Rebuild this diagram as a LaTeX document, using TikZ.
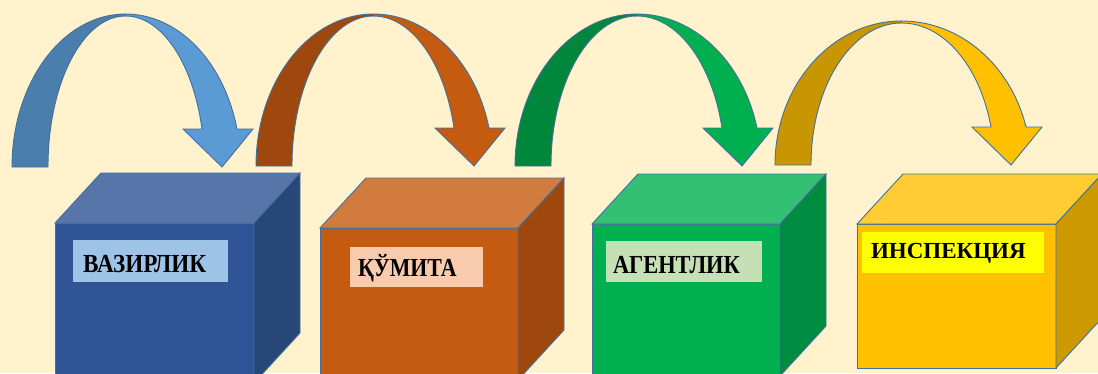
\documentclass[tikz,border=0pt]{standalone}
\usepackage{fontspec}
\usepackage{graphicx}
\newfontfamily\labfont{Liberation Serif}
\definecolor{bg}{HTML}{FFF2CC}
\definecolor{edge}{RGB}{70,112,152}
\definecolor{blueD}{HTML}{4A7EAD}
\definecolor{blueA}{HTML}{5B9BD5}
\definecolor{blueF}{HTML}{2F5597}
\definecolor{blueT}{HTML}{5875AA}
\definecolor{blueS}{HTML}{284779}
\definecolor{blueL}{HTML}{9DC3E6}
\definecolor{oranD}{HTML}{9E480E}
\definecolor{oranA}{HTML}{C55A11}
\definecolor{oranF}{HTML}{C55A11}
\definecolor{oranT}{HTML}{D17B3F}
\definecolor{oranS}{HTML}{9E480E}
\definecolor{oranL}{HTML}{F8CBAD}
\definecolor{greeD}{HTML}{00873C}
\definecolor{greeA}{HTML}{00B050}
\definecolor{greeF}{HTML}{00B050}
\definecolor{greeT}{HTML}{33C073}
\definecolor{greeS}{HTML}{008C40}
\definecolor{greeL}{HTML}{C5E0B4}
\definecolor{goldD}{HTML}{C89600}
\definecolor{goldA}{HTML}{FFC000}
\definecolor{goldF}{HTML}{FFC000}
\definecolor{goldT}{HTML}{FFCD33}
\definecolor{goldS}{HTML}{CC9A00}
\definecolor{goldL}{HTML}{FFFF00}
\tikzset{
  shapeline/.style={draw=edge, line width=0.9pt, line join=miter},
  cubeface/.style={shapeline, rectangle, inner sep=0pt, outer sep=0pt},
  labelbox/.style={rectangle, inner ysep=0pt, outer sep=0pt, align=left,
    font=\labfont\bfseries, text=black},
}
% #1 left x, #2 head right x, #3 top y (pixels from top), #4 bottom y (pixels from top), #5 back colour, #6 front colour
\newcommand{\curvedarrow}[6]{%
  \pgfmathsetmacro\aL{#1}\pgfmathsetmacro\aR{#2}%
  \pgfmathsetmacro\aYt{373-#3}\pgfmathsetmacro\aYb{373-#4}%
  \pgfmathsetmacro\aYh{\aYb+38}%
  \pgfmathsetmacro\aC{(\aL+\aR)/2-7}%
  \pgfmathsetmacro\ary{\aYt-\aYb}%
  \pgfmathsetmacro\aryi{\ary-2}%
  \pgfmathsetmacro\arx{\aC-\aL}%
  \pgfmathsetmacro\arxi{\arx-36}%
  \pgfmathsetmacro\asa{asin(38/\ary)}%
  \pgfmathsetmacro\asai{asin(38/\aryi)}%
  \pgfmathsetmacro\arxo{(\aR-16-\aC)/cos(\asa)}%
  \pgfmathsetmacro\arxii{(\aR-51-\aC)/cos(\asai)}%
  \filldraw[shapeline, fill=#5] (\aL,\aYb)
    arc[start angle=180, end angle=90, x radius=\arx, y radius=\ary]
    -- (\aC,\aYt-2)
    arc[start angle=90, end angle=180, x radius=\arxi, y radius=\aryi] -- cycle;
  \filldraw[shapeline, fill=#6] (\aC,\aYt)
    arc[start angle=90, end angle=\asa, x radius=\arxo, y radius=\ary]
    -- (\aR,\aYh) -- (\aR-31,\aYb) -- (\aR-70,\aYh) -- (\aR-51,\aYh)
    arc[start angle=\asai, end angle=90, x radius=\arxii, y radius=\aryi] -- cycle;
}
% #1 name, #2 top-left corner, #3 width, #4 height, #5 colour prefix
\newcommand{\cubebox}[5]{%
  \node[cubeface, fill=#5F, minimum width=#3pt, minimum height=#4pt, anchor=north west] (#1) at (#2) {};
  \filldraw[shapeline, fill=#5T] (#1.north west) -- ++(46,50)
    -- ([shift={(46,50)}]#1.north east) -- (#1.north east) -- cycle;
  \filldraw[shapeline, fill=#5S] (#1.north east) -- ++(46,50)
    -- ([shift={(46,50)}]#1.south east) -- (#1.south east) -- cycle;
}
\begin{document}
\begin{tikzpicture}[x=1pt,y=1pt]
\useasboundingbox (0,0) rectangle (1098,373);
\clip (0,0) rectangle (1098,373);
\fill[bg] (0,0) rectangle (1098,373);

\curvedarrow{12}{253}{14}{167}{blueD}{blueA}
\curvedarrow{256}{505}{14}{166}{oranD}{oranA}
\curvedarrow{515}{773}{14}{166}{greeD}{greeA}
\curvedarrow{775}{1042}{21}{165}{goldD}{goldA}

\cubebox{c1}{55,150}{199}{160}{blue}
\cubebox{c2}{320,145}{198}{152}{oran}
\cubebox{c3}{592,149}{188}{152}{gree}
\cubebox{c4}{857,149}{199}{144}{gold}

\node[labelbox, fill=blueL, text width=135pt, inner xsep=10pt, minimum height=42pt,
  text height=23pt, text depth=0pt] (l1) at (150.5,112)
  {\fontsize{26}{26}\selectfont\scalebox{0.89}[1]{ВАЗИРЛИК}};
\node[labelbox, fill=oranL, text width=117pt, inner xsep=8pt, minimum height=40pt,
  text height=18.5pt, text depth=0pt] (l2) at (416.5,106)
  {\fontsize{26}{26}\selectfont\scalebox{0.84}[1]{ҚЎМИТА}};
\node[labelbox, fill=greeL, text width=142pt, inner xsep=7pt, minimum height=41pt,
  text height=23pt, text depth=0pt] (l3) at (684,111.5)
  {\fontsize{26}{26}\selectfont\scalebox{0.86}[1]{АГЕНТЛИК}};
\node[labelbox, fill=goldL, text width=164pt, inner xsep=9pt, minimum height=41pt,
  text height=15pt, text depth=3.8pt] (l4) at (953,120.5)
  {\fontsize{23}{23}\selectfont ИНСПЕКЦИЯ};
\end{tikzpicture}
\end{document}
